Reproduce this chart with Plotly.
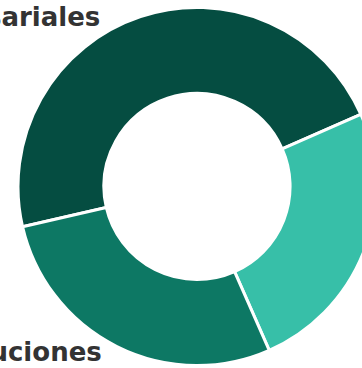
import plotly.graph_objects as go

# shares (percent)
labels = ["Empresariales", "Otras", "Instituciones"]
values = [47, 25, 28]
colors = ["#054d41", "#37bfa8", "#0d7864"]

W, H = 380, 368

fig = go.Figure()
fig.add_trace(go.Pie(
    labels=labels, values=values, hole=0.52, sort=False,
    direction="clockwise", rotation=257,
    marker=dict(colors=colors, line=dict(color="white", width=3)),
    textinfo="none", hoverinfo="label+percent", showlegend=False,
    domain=dict(x=[18 / W, 376 / W], y=[2 / H, 361 / H]),
))

# outer labels, clipped by the left edge like in the original
font = dict(family="DejaVu Sans", size=26, color="#333333", weight="bold")
fig.add_annotation(text=labels[0], x=102 / W, y=1 - 17 / H, xref="paper", yref="paper",
                   xanchor="right", yanchor="middle", showarrow=False, font=font)
fig.add_annotation(text=labels[2], x=104 / W, y=1 - 352 / H, xref="paper", yref="paper",
                   xanchor="right", yanchor="middle", showarrow=False, font=font)

fig.update_layout(width=W, height=H, margin=dict(l=0, r=0, t=0, b=0),
                  paper_bgcolor="white", plot_bgcolor="white")

fig.write_html("out.html", config={"displayModeBar": False},
               post_script="document.body.style.margin='0';document.body.style.overflow='hidden';")
